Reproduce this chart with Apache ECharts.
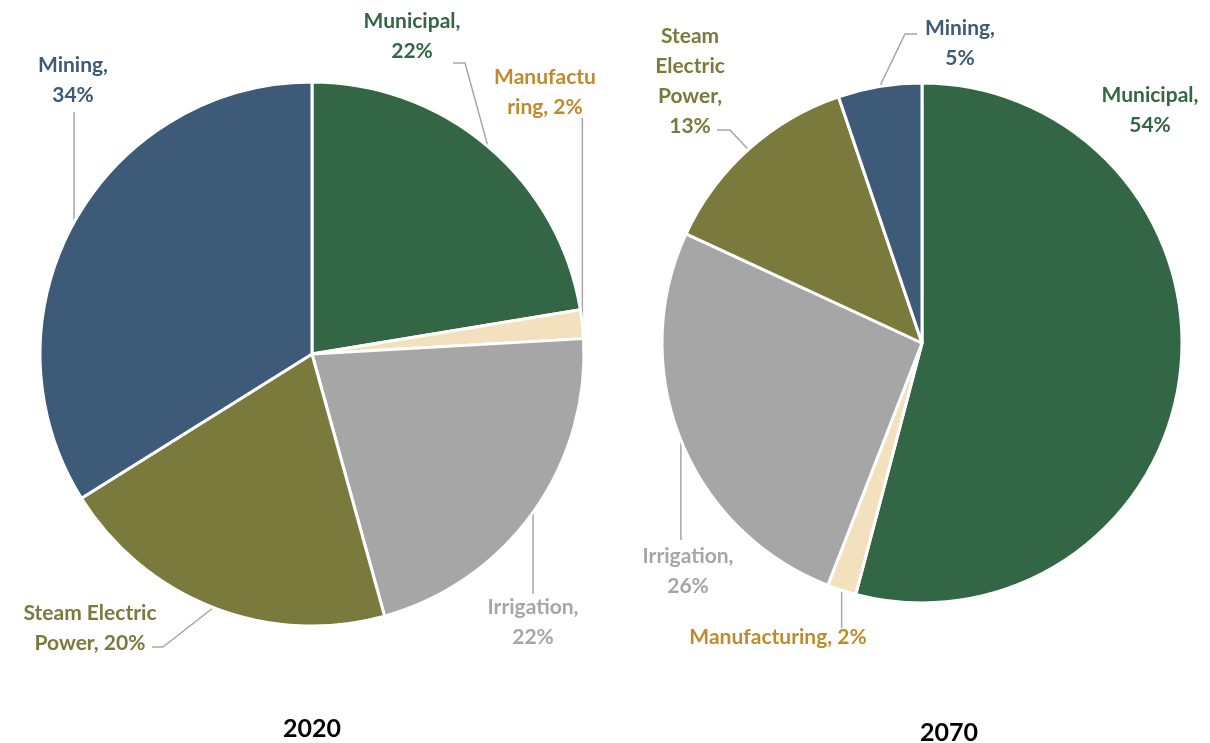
<!DOCTYPE html>
<html>
<head>
<meta charset="utf-8">
<script src="https://cdn.jsdelivr.net/npm/echarts@6/dist/echarts.min.js"></script>
<style>
html,body{margin:0;padding:0;background:#fff;}
#chart{width:1210px;height:743px;}
</style>
</head>
<body>
<div id="chart"></div>
<script>
// ---- data ----
var categories = ['Municipal', 'Manufacturing', 'Irrigation', 'Steam Electric Power', 'Mining'];
var values2020 = [22.4, 1.7, 21.6, 20.4, 33.9];
var values2070 = [54.1, 1.8, 26.0, 12.9, 5.2];
var titles = ['2020', '2070'];
// label text (line breaks as shown in the picture)
var labelNames2020 = ['Municipal,', 'Manufactu\nring,', 'Irrigation,', 'Steam Electric\nPower,', 'Mining,'];
var labelNames2070 = ['Municipal,', 'Manufacturing,', 'Irrigation,', 'Steam\nElectric\nPower,', 'Mining,'];
var breakAfter2020 = [true, false, true, false, true];
var breakAfter2070 = [true, false, true, true, true];

// ---- styles ----
var sliceColors = ['#336645', '#f3e0bd', '#a6a6a6', '#7a7a3c', '#3d5a78'];
var labelColors = ['#336645', '#bf8a2c', '#a6a6a6', '#7a7a3c', '#3d5a78'];
var FONT = 'Lato, "Open Sans", sans-serif';

// label layouts: centre of label and leader-line points after the slice edge point
var layouts = [
  [
    {x: 412, y: 36, line: [[465, 63], [453, 63]]},
    {x: 545, y: 92, line: 'v', end: 118},
    {x: 533, y: 622, line: 'v', end: 594},
    {x: 90, y: 628, line: [[163, 647], [152, 647]]},
    {x: 73, y: 80, line: 'v', end: 112}
  ],
  [
    {x: 1150, y: 110, line: null},
    {x: 778, y: 637, line: 'v', end: 628},
    {x: 688, y: 571, line: 'v', end: 540},
    {x: 690, y: 81, line: [[730, 130], [717, 130]]},
    {x: 960, y: 43, line: [[905, 34], [917, 34]]}
  ]
];

function buildData(values, names, breaks, seriesIdx) {
  return values.map(function (v, i) {
    var item = {
      name: categories[i],
      value: v,
      itemStyle: {color: sliceColors[i]},
      label: {
        color: labelColors[i],
        formatter: names[i] + (breaks[i] ? '\n' : ' ') + Math.round(v) + '%'
      }
    };
    if (!layouts[seriesIdx][i].line) item.labelLine = {show: false};
    return item;
  });
}

function makeLayout(seriesIdx) {
  return function (params) {
    var cfg = layouts[seriesIdx][params.dataIndex];
    var res = {x: cfg.x, y: cfg.y, align: 'center', verticalAlign: 'middle'};
    var pts = params.labelLinePoints;
    if (pts && cfg.line) {
      var edge = pts[0];
      var newPts;
      if (cfg.line === 'v') {
        newPts = [[edge[0], edge[1]], [edge[0], (edge[1] + cfg.end) / 2], [edge[0], cfg.end]];
      } else {
        newPts = [[edge[0], edge[1]], cfg.line[0], cfg.line[1]];
      }
      res.labelLinePoints = newPts;
    }
    return res;
  };
}

var chart = echarts.init(document.getElementById('chart'), null, {renderer: 'canvas'});

function pieSeries(values, names, breaks, idx, center, radius) {
  return {
    type: 'pie',
    center: center,
    radius: radius,
    startAngle: 90,
    clockwise: true,
    animation: false,
    avoidLabelOverlap: false,
    itemStyle: {borderColor: '#ffffff', borderWidth: 3},
    label: {
      show: true,
      position: 'outside',
      fontFamily: FONT,
      fontWeight: 'bold',
      fontSize: 21,
      lineHeight: 30,
      align: 'center'
    },
    labelLine: {show: true, length: 10, length2: 10, lineStyle: {color: '#a6a6a6', width: 1.5}},
    emphasis: {disabled: true},
    labelLayout: makeLayout(idx),
    data: buildData(values, names, breaks, idx)
  };
}

chart.setOption({
  backgroundColor: '#ffffff',
  animation: false,
  title: [
    {text: titles[0], left: 307, top: 711, textAlign: 'center',
     textStyle: {fontFamily: FONT, fontWeight: 'bold', fontSize: 25, color: '#000'}},
    {text: titles[1], left: 944, top: 715, textAlign: 'center',
     textStyle: {fontFamily: FONT, fontWeight: 'bold', fontSize: 25, color: '#000'}}
  ],
  series: [
    pieSeries(values2020, labelNames2020, breakAfter2020, 0, [312, 354], 272),
    pieSeries(values2070, labelNames2070, breakAfter2070, 1, [922, 343], 260)
  ]
});
</script>
</body>
</html>
